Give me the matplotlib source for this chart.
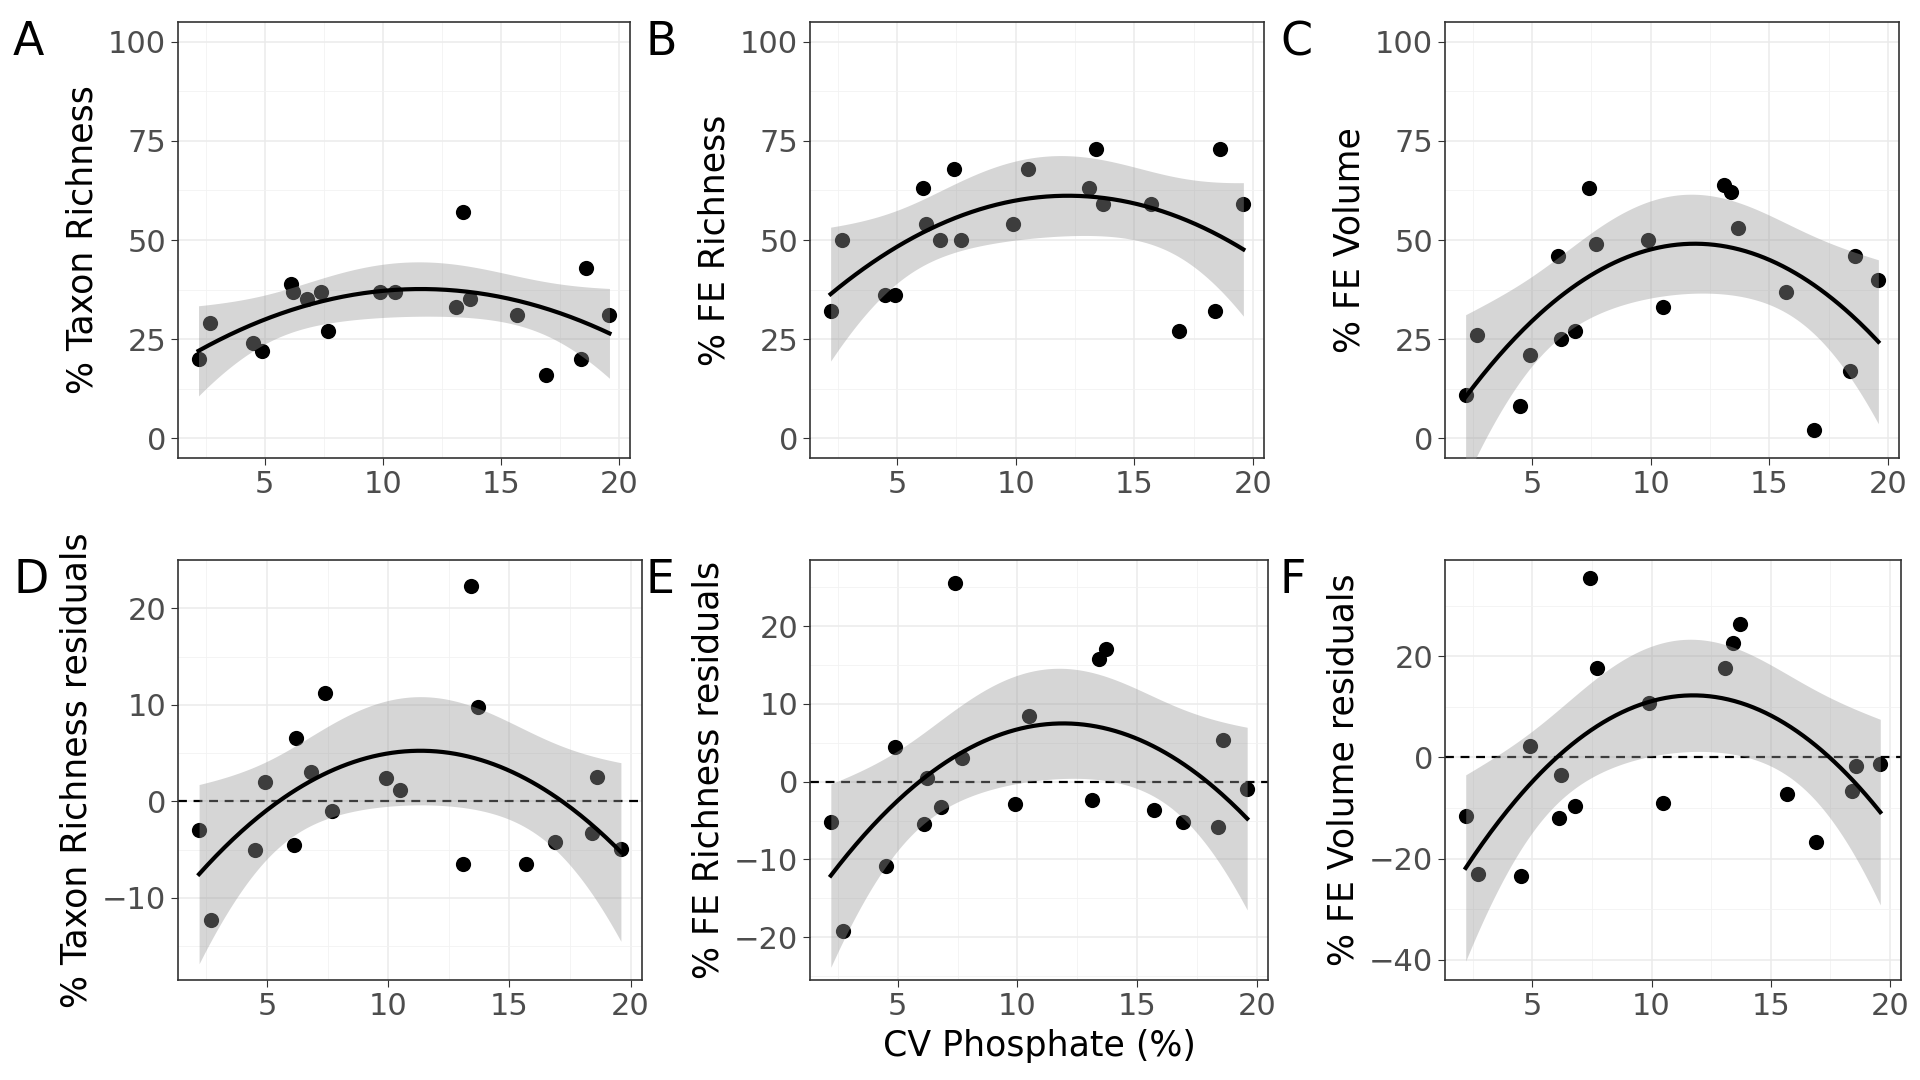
import numpy as np
import matplotlib
matplotlib.use("Agg")
import matplotlib.pyplot as plt
from matplotlib.ticker import MultipleLocator

x = np.array([2.2,2.7,4.5,4.9,6.1,6.2,6.8,7.4,7.7,9.9,10.5,13.1,13.4,13.7,15.7,16.9,18.4,18.6,19.6])
taxon = [20,29,24,22,39,37,35,37,27,37,37,33,57,35,31,16,20,43,31]
fe_rich = [32,50,36,36,63,54,50,68,50,54,68,63,73,59,59,27,32,73,59]
fe_vol = [11,26,8,21,46,25,27,63,49,50,33,64,62,53,37,2,17,46,40]
taxon_res = [-3,-12.3,-5,2,-4.5,6.6,3,11.2,-1,2.4,1.2,-6.5,22.3,9.8,-6.5,-4.2,-3.3,2.5,-4.9]
fe_rich_res = [-5.2,-19.2,-10.8,4.5,-5.5,0.5,-3.2,25.5,3,-2.9,8.4,-2.4,15.8,17,-3.6,-5.2,-5.8,5.4,-0.9]
fe_vol_res = [-11.5,-23,-23.5,2.2,-12,-3.5,-9.6,35.5,17.7,10.8,-9,17.7,22.6,26.4,-7.3,-16.8,-6.6,-1.8,-1.3]

panels = [
    ("A", taxon, "% Taxon Richness", (-5,105), 25, False),
    ("B", fe_rich, "% FE Richness", (-5,105), 25, False),
    ("C", fe_vol, "% FE Volume", (-5,105), 25, False),
    ("D", taxon_res, "% Taxon Richness residuals", (-18.5,25), 10, True),
    ("E", fe_rich_res, "% FE Richness residuals", (-25.5,28.5), 10, True),
    ("F", fe_vol_res, "% FE Volume residuals", (-44,39), 20, True),
]
W, H = 1920, 1080
boxes = [(178,22,630,458),(810,22,1264,458),(1445,22,1899,458),
         (178,560,642,980),(810,560,1268,980),(1445,560,1901,980)]

fig = plt.figure(figsize=(19.2,10.8), dpi=100)
fig.patch.set_facecolor("white")

def quadfit(xv, yv):
    X = np.column_stack([np.ones_like(xv), xv, xv**2])
    beta, *_ = np.linalg.lstsq(X, yv, rcond=None)
    n, p = X.shape
    res = yv - X @ beta
    s2 = res @ res / (n - p)
    cov = s2 * np.linalg.inv(X.T @ X)
    xs = np.linspace(xv.min(), xv.max(), 200)
    Xs = np.column_stack([np.ones_like(xs), xs, xs**2])
    fit = Xs @ beta
    se = np.sqrt(np.einsum("ij,jk,ik->i", Xs, cov, Xs))
    t = 2.12  # t(0.975, 16)
    return xs, fit, fit - t*se, fit + t*se

for (lab, yv, ylab, ylim, step, dash), (l,t,r,b) in zip(panels, boxes):
    ax = fig.add_axes([l/W, 1-b/H, (r-l)/W, (b-t)/H])
    yv = np.array(yv, float)
    ax.scatter(x, yv, s=120, color="black", zorder=2, linewidths=0)
    xs, fit, lo, hi = quadfit(x, yv)
    ax.fill_between(xs, lo, hi, color="#999999", alpha=0.4, linewidth=0, zorder=3)
    ax.plot(xs, fit, color="black", lw=3, zorder=4)
    if dash:
        ax.axhline(0, color="black", ls=(0,(4,3)), lw=1.6, zorder=1)
    ax.set_xlim(1.33, 20.47)
    ax.set_ylim(*ylim)
    ax.xaxis.set_major_locator(MultipleLocator(5))
    ax.xaxis.set_minor_locator(MultipleLocator(2.5))
    ax.yaxis.set_major_locator(MultipleLocator(step))
    ax.yaxis.set_minor_locator(MultipleLocator(step/2))
    ax.grid(which="major", color="#ebebeb", lw=1.1, zorder=0)
    ax.grid(which="minor", color="#f2f2f2", lw=0.6, zorder=0)
    ax.set_axisbelow(True)
    for s in ax.spines.values():
        s.set_color("#333333"); s.set_linewidth(1.2)
    ax.tick_params(which="major", labelsize=22, labelcolor="#4d4d4d", color="#333333", length=5)
    ax.tick_params(which="minor", length=0)
    ax.set_ylabel(ylab, fontsize=25, labelpad=6)
    fig.text((l-165)/W, 1-(t-2)/H, lab, fontsize=33, va="top", ha="left")
    if lab == "E":
        ax.set_xlabel("CV Phosphate (%)", fontsize=25, labelpad=6)

fig.savefig("out.png", dpi=100)
